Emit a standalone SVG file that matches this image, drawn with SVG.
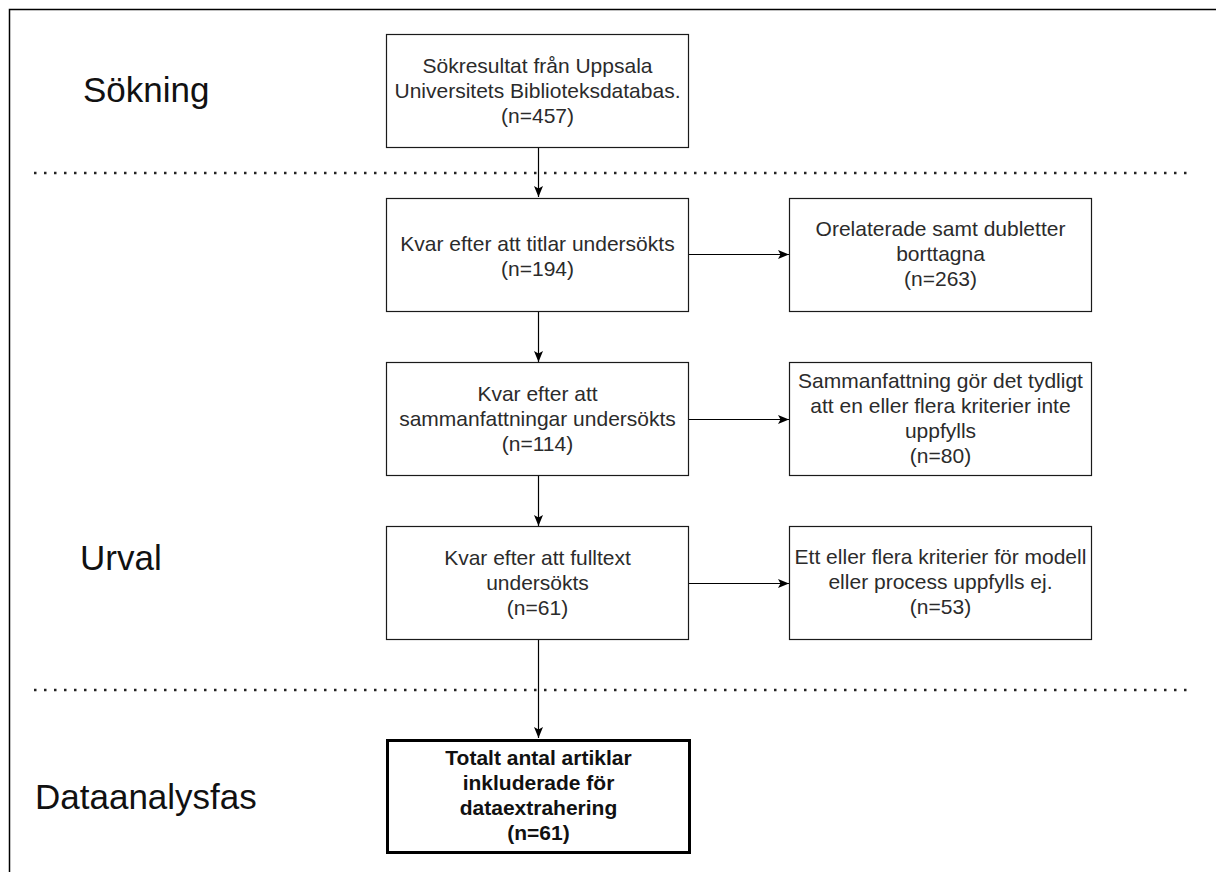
<svg xmlns="http://www.w3.org/2000/svg" width="1216" height="872" viewBox="0 0 1216 872">
  <style>
    .box { fill: #ffffff; stroke: #1a1a1a; stroke-width: 1.2; }
    .final { fill: #ffffff; stroke: #000000; stroke-width: 3; }
    .txt { font-family: "Liberation Sans", Arial, sans-serif; font-size: 21px; fill: #2b2b2b; text-anchor: middle; }
    .bold { font-weight: bold; fill: #111111; }
    .phase { font-family: "Liberation Sans", Arial, sans-serif; font-size: 35px; fill: #111111; }
    .conn { fill: none; stroke: #000000; stroke-width: 1.2; }
    .sep { fill: none; stroke: #222222; stroke-width: 2.5; stroke-dasharray: 2.5 7.5; }
    .frame { fill: none; stroke: #000000; stroke-width: 1.5; }
  </style>
  <defs>
    <marker id="arrow" viewBox="0 0 11 9" refX="11" refY="4.5" markerWidth="11" markerHeight="9" markerUnits="userSpaceOnUse" orient="auto">
      <path d="M0,0 L11,4.5 L0,9 L2.5,4.5 z" fill="#000000"/>
    </marker>
  </defs>

  <rect x="0" y="0" width="1216" height="872" fill="#ffffff"/>

  <!-- page frame -->
  <path class="frame" d="M9.5,872 V9.5 H1216"/>

  <!-- phase separators -->
  <g id="separators">
    <line class="sep" x1="34" y1="173" x2="1188" y2="173"/>
    <line class="sep" x1="34" y1="690" x2="1188" y2="690"/>
  </g>

  <!-- phase labels -->
  <g id="phase-sokning"><text class="phase" x="83" y="102">Sökning</text></g>
  <g id="phase-urval"><text class="phase" x="80" y="570">Urval</text></g>
  <g id="phase-dataanalys"><text class="phase" x="35" y="809">Dataanalysfas</text></g>

  <!-- connectors -->
  <g id="connectors">
    <line class="conn" x1="538.5" y1="148" x2="538.5" y2="197" marker-end="url(#arrow)"/>
    <line class="conn" x1="538.5" y1="312" x2="538.5" y2="362" marker-end="url(#arrow)"/>
    <line class="conn" x1="538.5" y1="475" x2="538.5" y2="526" marker-end="url(#arrow)"/>
    <line class="conn" x1="538.5" y1="639" x2="538.5" y2="738" marker-end="url(#arrow)"/>
    <line class="conn" x1="689" y1="254.5" x2="789" y2="254.5" marker-end="url(#arrow)"/>
    <line class="conn" x1="689" y1="419.5" x2="789" y2="419.5" marker-end="url(#arrow)"/>
    <line class="conn" x1="689" y1="583.5" x2="789" y2="583.5" marker-end="url(#arrow)"/>
  </g>

  <!-- search result -->
  <g id="node-search">
    <rect class="box" x="386.5" y="34.5" width="302" height="113"/>
    <text class="txt" x="537.5" y="73">Sökresultat från Uppsala</text>
    <text class="txt" x="537.5" y="98">Universitets Biblioteksdatabas.</text>
    <text class="txt" x="537.5" y="123">(n=457)</text>
  </g>

  <!-- title screening -->
  <g id="node-titles">
    <rect class="box" x="386.5" y="198.5" width="302" height="113"/>
    <text class="txt" x="537.5" y="251">Kvar efter att titlar undersökts</text>
    <text class="txt" x="537.5" y="276">(n=194)</text>
  </g>
  <g id="node-excluded-titles">
    <rect class="box" x="789.5" y="198.5" width="302" height="113"/>
    <text class="txt" x="940.5" y="236">Orelaterade samt dubletter</text>
    <text class="txt" x="940.5" y="261">borttagna</text>
    <text class="txt" x="940.5" y="286">(n=263)</text>
  </g>

  <!-- abstract screening -->
  <g id="node-abstracts">
    <rect class="box" x="386.5" y="362.5" width="302" height="113"/>
    <text class="txt" x="537.5" y="401">Kvar efter att</text>
    <text class="txt" x="537.5" y="426">sammanfattningar undersökts</text>
    <text class="txt" x="537.5" y="451">(n=114)</text>
  </g>
  <g id="node-excluded-abstracts">
    <rect class="box" x="789.5" y="362.5" width="302" height="113"/>
    <text class="txt" x="940.5" y="388">Sammanfattning gör det tydligt</text>
    <text class="txt" x="940.5" y="413">att en eller flera kriterier inte</text>
    <text class="txt" x="940.5" y="438">uppfylls</text>
    <text class="txt" x="940.5" y="463">(n=80)</text>
  </g>

  <!-- full-text screening -->
  <g id="node-fulltext">
    <rect class="box" x="386.5" y="526.5" width="302" height="113"/>
    <text class="txt" x="537.5" y="565">Kvar efter att fulltext</text>
    <text class="txt" x="537.5" y="590">undersökts</text>
    <text class="txt" x="537.5" y="615">(n=61)</text>
  </g>
  <g id="node-excluded-fulltext">
    <rect class="box" x="789.5" y="526.5" width="302" height="113"/>
    <text class="txt" x="940.5" y="564">Ett eller flera kriterier för modell</text>
    <text class="txt" x="940.5" y="589">eller process uppfylls ej.</text>
    <text class="txt" x="940.5" y="614">(n=53)</text>
  </g>

  <!-- included articles -->
  <g id="node-included">
    <rect class="final" x="387.5" y="740.5" width="302" height="112"/>
    <text class="txt bold" x="538.5" y="765">Totalt antal artiklar</text>
    <text class="txt bold" x="538.5" y="790">inkluderade för</text>
    <text class="txt bold" x="538.5" y="815">dataextrahering</text>
    <text class="txt bold" x="538.5" y="840">(n=61)</text>
  </g>
</svg>
